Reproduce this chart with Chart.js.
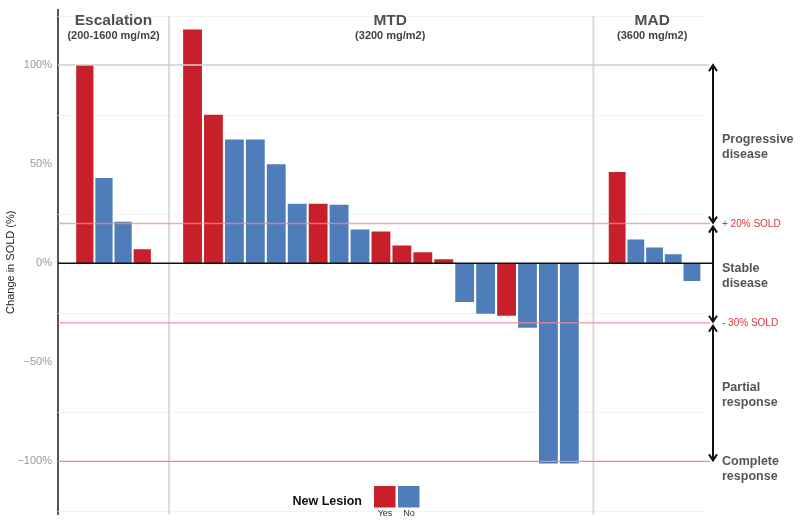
<!DOCTYPE html>
<html>
<head>
<meta charset="utf-8">
<script src="https://cdn.jsdelivr.net/npm/chart.js@4.4.0/dist/chart.umd.min.js"></script>
<style>
  html, body { margin: 0; padding: 0; background: #fff; }
  #wrap { width: 800px; height: 522px; }
</style>
</head>
<body>
<div id="wrap"><canvas id="waterfall"></canvas></div>
<script>
// best response per patient, % change in SOLD, grouped by dose cohort
const escalationValues = [100, 43, 21, 7];
const escalationLesion = ['Yes', 'No', 'No', 'Yes'];
const mtdValues = [118, 75, 62.5, 62.5, 50, 30, 30, 29.5, 17, 16, 9, 5.5, 2, -19.5, -25.5, -26.5, -32.5, -101, -101];
const mtdLesion = ['Yes', 'Yes', 'No', 'No', 'No', 'No', 'Yes', 'No', 'No', 'Yes', 'Yes', 'Yes', 'Yes', 'No', 'No', 'Yes', 'No', 'No', 'No'];
const madValues = [46, 12, 8, 4.5, -9];
const madLesion = ['Yes', 'No', 'No', 'No', 'No'];

const facetNames = ['Escalation', 'MTD', 'MAD'];
const facetDoses = ['(200-1600 mg/m2)', '(3200 mg/m2)', '(3600 mg/m2)'];
const yTicks = [100, 50, 0, -50, -100];
const minorTicks = [125, 75, 25, -25, -75, -125];
const bandEdges = [100, 20, -30, -100];
const bandNames = [['Progressive', 'disease'], ['Stable', 'disease'], ['Partial', 'response'], ['Complete', 'response']];
const cutLabels = ['+ 20% SOLD', '- 30% SOLD'];
const lesionNames = ['Yes', 'No'];

const FONT = '"Liberation Sans", Arial, Helvetica, sans-serif';
const colors = { Yes: '#C8202A', No: '#4F7DBA' };

function toPoints(vals) {
  return vals.map((v, i) => ({ x: i + 1, y: v }));
}

function line(ctx, x1, y1, x2, y2) {
  ctx.beginPath();
  ctx.moveTo(x1, y1);
  ctx.lineTo(x2, y2);
  ctx.stroke();
}

function arrowHead(ctx, x, y, dir) {
  ctx.beginPath();
  ctx.moveTo(x - 4, y - dir * 6);
  ctx.lineTo(x, y);
  ctx.lineTo(x + 4, y - dir * 6);
  ctx.stroke();
}

const decor = {
  id: 'decor',
  beforeDatasetsDraw(chart) {
    const { ctx, chartArea: a, scales } = chart;
    const y = scales.y;
    ctx.save();
    ctx.strokeStyle = '#f3f3f3';
    ctx.lineWidth = 1;
    minorTicks.forEach(v => {
      const py = Math.round(y.getPixelForValue(v)) + 0.5;
      line(ctx, a.left, py, a.right, py);
    });
    ctx.strokeStyle = '#dadada';
    ctx.lineWidth = 2;
    ['x2', 'x3'].forEach(id => {
      const px = scales[id].left;
      line(ctx, px, a.top + 6, px, a.bottom);
    });
    ctx.restore();
  },
  afterDatasetsDraw(chart) {
    const { ctx, chartArea: a, scales } = chart;
    const y = scales.y;
    const arrowX = a.right + 8;
    const textX = a.right + 17;
    ctx.save();

    // reference lines
    ctx.lineWidth = 1.5;
    ctx.strokeStyle = '#cfcfcf';
    line(ctx, a.left, y.getPixelForValue(100), a.right + 4, y.getPixelForValue(100));
    ctx.strokeStyle = 'rgba(240,140,150,0.75)';
    [20, -30].forEach(v => line(ctx, a.left, y.getPixelForValue(v), a.right + 5, y.getPixelForValue(v)));
    ctx.strokeStyle = '#EE8A82';
    ctx.lineWidth = 1.2;
    line(ctx, a.left, y.getPixelForValue(-100), a.right + 5, y.getPixelForValue(-100));
    ctx.strokeStyle = '#111';
    ctx.lineWidth = 1.5;
    line(ctx, a.left, y.getPixelForValue(0), arrowX, y.getPixelForValue(0));

    // response band arrows
    ctx.strokeStyle = '#111';
    ctx.lineWidth = 2;
    for (let i = 0; i < bandEdges.length - 1; i++) {
      const top = y.getPixelForValue(bandEdges[i]) + (i === 0 ? 0 : 3);
      const bot = y.getPixelForValue(bandEdges[i + 1]) - 1;
      line(ctx, arrowX, top, arrowX, bot);
      arrowHead(ctx, arrowX, top, -1);
      arrowHead(ctx, arrowX, bot, 1);
    }

    // band names
    ctx.fillStyle = '#555';
    ctx.font = 'bold 12.5px ' + FONT;
    ctx.textAlign = 'left';
    ctx.textBaseline = 'middle';
    bandNames.forEach((lines, i) => {
      let mid;
      if (i < bandEdges.length - 1) {
        mid = (y.getPixelForValue(bandEdges[i]) + y.getPixelForValue(bandEdges[i + 1])) / 2 + 3;
      } else {
        mid = y.getPixelForValue(bandEdges[i]) + 8;
      }
      ctx.fillText(lines[0], textX, mid - 7.5);
      ctx.fillText(lines[1], textX, mid + 7.5);
    });

    // threshold labels
    ctx.fillStyle = '#D9363E';
    ctx.font = '10px ' + FONT;
    [20, -30].forEach((v, i) => ctx.fillText(cutLabels[i], textX, y.getPixelForValue(v) + 1));

    // facet strips
    const shift = [0, 9, 3];
    ['x1', 'x2', 'x3'].forEach((id, i) => {
      const s = scales[id];
      const cx = (s.left + s.right) / 2 + shift[i];
      ctx.textAlign = 'center';
      ctx.fillStyle = '#505050';
      ctx.font = 'bold 15.5px ' + FONT;
      ctx.fillText(facetNames[i], cx, 20.5);
      ctx.fillStyle = '#444';
      ctx.font = 'bold 11px ' + FONT;
      ctx.fillText(facetDoses[i], cx, 35.5);
    });

    // legend
    ctx.fillStyle = '#111';
    ctx.font = 'bold 12.5px ' + FONT;
    ctx.textAlign = 'right';
    ctx.fillText('New Lesion', 362, 501.5);
    ctx.textAlign = 'center';
    lesionNames.forEach((name, i) => {
      const bx = 374 + i * 24;
      ctx.fillStyle = colors[name];
      ctx.fillRect(bx, 486, 21.5, 21.5);
      ctx.fillStyle = '#333';
      ctx.font = '9px ' + FONT;
      ctx.fillText(name, bx + 11, 514);
    });
    ctx.restore();
  }
};

function panelAxis(min, max, weight) {
  return {
    type: 'linear',
    display: false,
    offset: false,
    min: min,
    max: max,
    stack: 'facet',
    stackWeight: weight,
    afterBuildTicks: s => { s.ticks = []; }
  };
}

function barSet(vals, lesion, axis) {
  return {
    data: toPoints(vals),
    xAxisID: axis,
    yAxisID: 'y',
    backgroundColor: lesion.map(l => colors[l]),
    borderWidth: 0,
    grouped: false,
    barPercentage: 0.9,
    categoryPercentage: 1
  };
}

new Chart(document.getElementById('waterfall'), {
  type: 'bar',
  data: {
    datasets: [
      barSet(escalationValues, escalationLesion, 'x1'),
      barSet(mtdValues, mtdLesion, 'x2'),
      barSet(madValues, madLesion, 'x3')
    ]
  },
  options: {
    responsive: true,
    maintainAspectRatio: false,
    devicePixelRatio: 1,
    animation: false,
    layout: { padding: { top: 10, right: 95, bottom: 7.5, left: 0 } },
    plugins: { legend: { display: false }, tooltip: { enabled: false } },
    scales: {
      x1: panelAxis(-0.4, 5.4, 111),
      x2: panelAxis(-0.12, 20.15, 424),
      x3: panelAxis(-0.27, 5.7, 111.5),
      y: {
        min: -126.8,
        max: 127.8,
        afterBuildTicks: s => { s.ticks = yTicks.map(v => ({ value: v })); },
        afterFit: s => {
          s.width = 58;
          s.paddingTop = 0;
          s.paddingBottom = 0;
        },
        grid: { display: false, drawTicks: false },
        border: { display: true, color: '#555', width: 2 },
        ticks: {
          color: '#999',
          padding: 6,
          font: { size: 11, family: FONT },
          callback: v => (v < 0 ? '\u2212' + Math.abs(v) : v) + '%'
        },
        title: {
          display: true,
          text: 'Change in SOLD (%)',
          color: '#222',
          font: { size: 11, family: FONT },
          padding: { top: 4, bottom: 0 }
        }
      }
    }
  },
  plugins: [decor]
});
</script>
</body>
</html>
